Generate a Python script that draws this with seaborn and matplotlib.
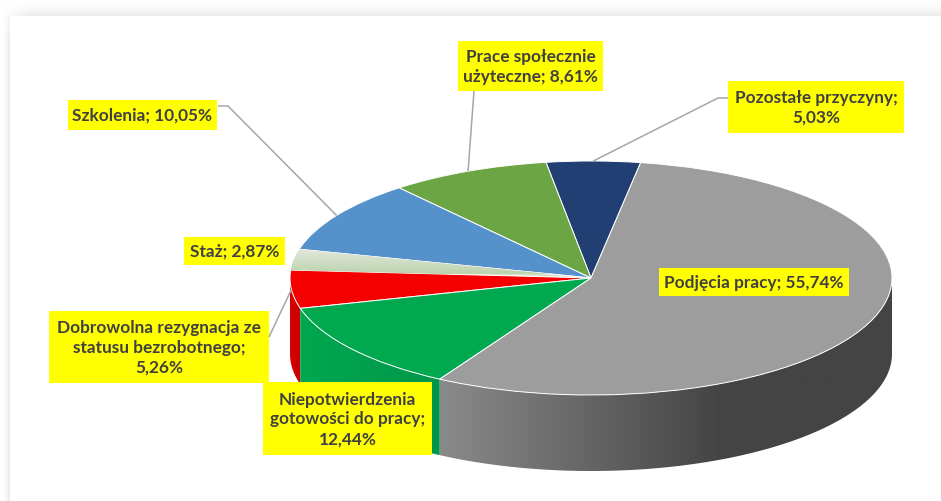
import numpy as np
import seaborn as sns
import matplotlib.pyplot as plt
from matplotlib.colors import LinearSegmentedColormap
from matplotlib.patches import Rectangle, Polygon

labels = ['Pozostałe przyczyny;\n5,03%',
          'Prace społecznie\nużyteczne; 8,61%',
          'Szkolenia; 10,05%',
          'Staż; 2,87%',
          'Dobrowolna rezygnacja ze\nstatusu bezrobotnego;\n5,26%',
          'Niepotwierdzenia\ngotowości do pracy;\n12,44%',
          'Podjęcia pracy; 55,74%']
shares = [5.03, 8.61, 10.05, 2.87, 5.26, 12.44, 55.74]
colors = ['#223f73', '#6ca544', '#5592cb', '#d5e3cb', '#f50000', '#00a84f', '#9d9d9d']

sns.set_theme(style='white')
plt.rcParams['font.family'] = ['Lato', 'DejaVu Sans']

W, H = 941, 502
# top of the pie is an ellipse, in pixels
cx, cy, rx, ry = 591, 279, 301, 117
depth = 76 / ry
start = 80.5

fig = plt.figure(figsize=(W / 100, H / 100), dpi=100)

# card shadow at the top and left edge
yy, xx = np.mgrid[0:H, 0:W]
top = np.where(yy < 17, 0.09 * (yy / 17) ** 2 * np.clip(xx / 30, 0, 1), 0)
left = np.where((xx < 10) & (yy >= 17), 0.10 * (xx / 10) ** 2 * np.clip(yy / 40, 0, 1), 0)
bg = 1 - top - left
fig.figimage(np.dstack([bg, bg, bg]), origin='upper', zorder=0)

ax = fig.add_axes([0, 0, 1, 1], zorder=1)
ax.patch.set_alpha(0)
wedges, _ = ax.pie(shares, colors=colors, startangle=start, counterclock=True,
                   wedgeprops={'edgecolor': 'white', 'linewidth': 0.7, 'zorder': 3})
ax.set_aspect('auto')


def wall(a0, a1, stops):
    # side of the pie between two angles, shaded from left to right
    t = np.radians(np.linspace(a0, a1, 200))
    x, y = np.cos(t), np.sin(t)
    pts = np.r_[np.c_[x, y], np.c_[x[::-1], y[::-1] - depth]]
    poly = Polygon(pts, closed=True, facecolor='none', edgecolor='none')
    ax.add_patch(poly)
    cmap = LinearSegmentedColormap.from_list('w', stops)
    im = ax.imshow(np.linspace(0, 1, 256)[None, :], cmap=cmap, aspect='auto', zorder=2,
                   extent=(x.min(), x.max(), y.min() - depth, y.max()))
    im.set_clip_path(poly)


edges = start + np.cumsum([0] + shares) * 3.6
wall(180, edges[5], ['#d90000', '#c40000'])
wall(edges[5], edges[6], ['#00a84f', '#00964a'])
wall(edges[6], 360, [(0, '#8a8a8a'), (0.62, '#444444'), (1, '#444444')])

# light wedge, paler at the top edge
im = ax.imshow(np.linspace(0, 1, 64)[:, None],
               cmap=LinearSegmentedColormap.from_list('s', ['#bcd3ae', '#e4e9de']),
               origin='lower', aspect='auto', zorder=4, extent=(-1, 0, 0.03, 0.25))
im.set_clip_path(wedges[3])

ax.set_xlim(-cx / rx, (W - cx) / rx)
ax.set_ylim((cy - H) / ry, cy / ry)
ax.axis('off')

# labels in pixels
ov = fig.add_axes([0, 0, 1, 1], zorder=2)
ov.set_xlim(0, W)
ov.set_ylim(H, 0)
ov.axis('off')

boxes = [(728, 82, 904, 134), (458, 42, 603, 92), (68, 101, 217, 131), (184, 238, 285, 266),
         (49, 312, 269, 384), (263, 383, 432, 456), (659, 269, 849, 297)]

mids = np.radians(edges[:-1] + np.array(shares) * 1.8)
ax_x = cx + rx * np.cos(mids)
ax_y = cy - ry * np.sin(mids)
leaders = {0: [(728, 99), (718, 99)], 1: [(474, 92)], 2: [(218, 107), (228, 107)], 4: [(269, 338)]}
for i, pts in leaders.items():
    xs = [p[0] for p in pts] + [ax_x[i]]
    ys = [p[1] for p in pts] + [ax_y[i]]
    ov.plot(xs, ys, color='#a6a6a6', lw=1.1, solid_capstyle='butt')

for lab, (x0, y0, x1, y1) in zip(labels, boxes):
    ov.add_patch(Rectangle((x0, y0), x1 - x0, y1 - y0, facecolor='#ffff00', edgecolor='none'))
    ov.text((x0 + x1) / 2, (y0 + y1) / 2, lab, ha='center', va='center', fontsize=12.4,
            fontweight='bold', color='#404040', linespacing=1.3)

fig.savefig('out.png', dpi=100)
